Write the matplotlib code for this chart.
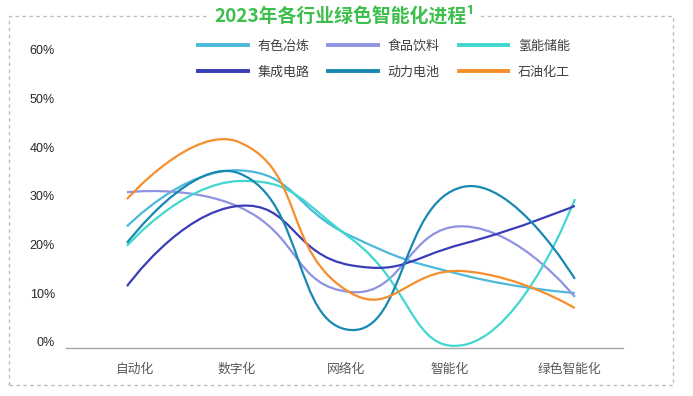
import numpy as np
import matplotlib
matplotlib.use("Agg")
import matplotlib.pyplot as plt
from matplotlib.path import Path
from matplotlib.patches import PathPatch, Rectangle
from matplotlib.lines import Line2D
from matplotlib.transforms import ScaledTranslation

plt.rcParams["font.family"] = ["Liberation Sans", "Noto Sans CJK SC", "DejaVu Sans"]

# data (percent)
stages = ["自动化", "数字化", "网络化", "智能化", "绿色智能化"]
series_names = ["有色冶炼", "食品饮料", "氢能储能", "集成电路", "动力电池", "石油化工"]
nonferrous = [25.0, 36.5, 23.0, 15.0, 11.3]
food_bev = [32.0, 29.0, 11.5, 25.0, 10.5]
hydrogen = [21.0, 34.3, 22.5, 0.6, 30.6]
ic = [12.7, 29.2, 17.0, 21.4, 29.2]
battery = [21.6, 35.9, 3.7, 33.1, 14.2]
petro = [30.6, 42.3, 11.3, 15.8, 8.2]
y_ticks = [0, 10, 20, 30, 40, 50, 60]

series = [nonferrous, food_bev, hydrogen, ic, battery, petro]
colors = ["#4bb8dc", "#8f93e0", "#41d7d0", "#3a3db8", "#1789b1", "#f78e2c"]


def smooth_patch(ax, xs, ys, color, smooth=0.5):
    """Cubic bezier through the points, control points as in echarts' smooth line."""
    pts = ax.transData.transform(np.column_stack([xs, ys]))
    n = len(pts)
    cp_in = [pts[i] for i in range(n)]
    cp_out = [pts[i] for i in range(n)]
    for i in range(1, n - 1):
        prev, cur, nxt = pts[i - 1], pts[i], pts[i + 1]
        v = nxt - prev
        l0 = np.hypot(*(cur - prev))
        l1 = np.hypot(*(nxt - cur))
        r = l1 / (l0 + l1)
        cp_in[i] = cur - v * smooth * (1 - r)
        cp_out[i] = cur + v * smooth * r
    verts = [pts[0]]
    codes = [Path.MOVETO]
    for i in range(n - 1):
        verts += [cp_out[i], cp_in[i + 1], pts[i + 1]]
        codes += [Path.CURVE4] * 3
    verts = ax.transData.inverted().transform(np.array(verts))
    patch = PathPatch(Path(verts, codes), fill=False, edgecolor=color,
                      linewidth=1.6, clip_on=False, capstyle="butt")
    ax.add_patch(patch)


fig = plt.figure(figsize=(6.93, 3.96), dpi=100)
ax = fig.add_axes([66 / 693, 1 - 348 / 396, (623 - 66) / 693, (348 - 56) / 396])
ax.set_xlim(-0.545, 4.43)
ax.set_ylim(0, 60)

x = np.arange(len(stages))
for vals, c in zip(series, colors):
    smooth_patch(ax, x, vals, c)

for s in ["top", "right", "left"]:
    ax.spines[s].set_visible(False)
ax.spines["bottom"].set_color("#a6a6a6")
ax.spines["bottom"].set_linewidth(1.0)

ax.set_yticks(y_ticks)
ax.set_yticklabels([f"{v}%" for v in y_ticks], fontsize=9, color="#262626")
ax.tick_params(axis="y", length=0, pad=8)
for lab in ax.get_yticklabels():
    lab.set_transform(lab.get_transform() + ScaledTranslation(0, 6 / 100, fig.dpi_scale_trans))

ax.set_xticks(x)
ax.set_xticklabels(stages, fontsize=9.2, color="#595959")
ax.tick_params(axis="x", length=0, pad=11)
# the category labels in the original sit a little off the line points
for lab, dx in zip(ax.get_xticklabels(), [8, -2, -5, -13, -5]):
    lab.set_transform(lab.get_transform() + ScaledTranslation(dx / 100, 0, fig.dpi_scale_trans))

# legend fills column-wise, so reorder to get row-wise 3 + 3
handles = [Line2D([], [], color=c, linewidth=2.8) for c in colors]
order = [0, 3, 1, 4, 2, 5]
fig.legend([handles[i] for i in order], [series_names[i] for i in order],
           loc="upper left", bbox_to_anchor=(198 / 693, 1 - 40 / 396),
           ncol=3, frameon=False, fontsize=9.4, handlelength=3.8, handletextpad=0.75,
           columnspacing=1.45, labelspacing=1.05, borderpad=0, borderaxespad=0,
           labelcolor="#404040")

# dashed frame
fig.patches.append(Rectangle((9 / 693, 1 - 385 / 396), 664 / 693, (385 - 16) / 396,
                             transform=fig.transFigure, fill=False, edgecolor="#bdbdbd",
                             linewidth=1.0, linestyle=(0, (2.5, 2.5))))

fig.text(0.497, 1 - 16 / 396, "2023年各行业绿色智能化进程¹", ha="center", va="center",
         fontsize=13.6, fontweight="bold", color="#3cbf4c",
         family=["Noto Sans CJK SC", "DejaVu Sans"],
         bbox=dict(facecolor="white", edgecolor="none", pad=4))

fig.savefig("out.png", dpi=100)
